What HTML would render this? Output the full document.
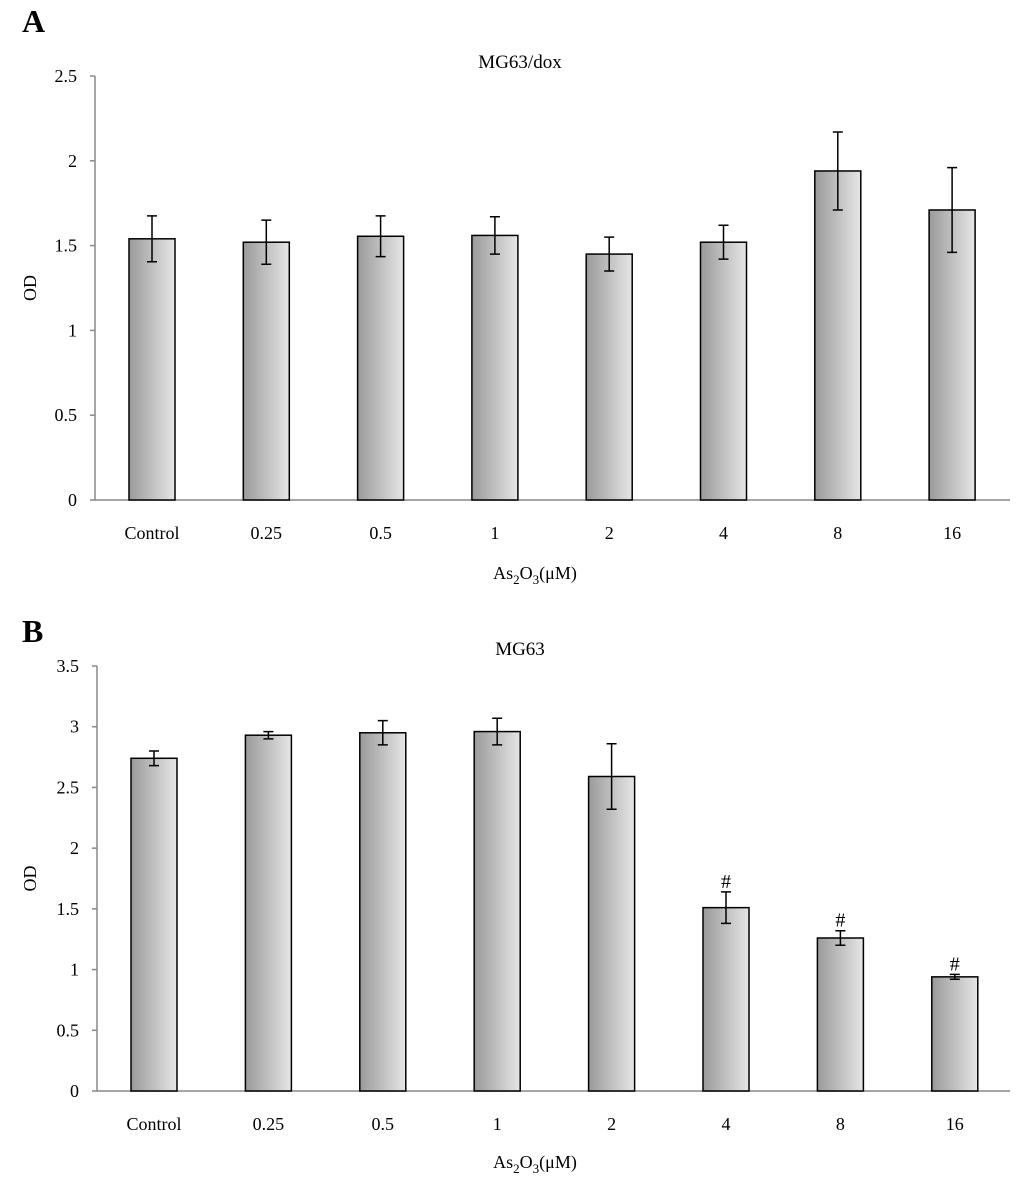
<!DOCTYPE html>
<html><head><meta charset="utf-8"><style>
body{margin:0;background:#fff;}
svg text{font-family:"Liberation Serif",serif;fill:#000;}
</style></head><body>
<svg id="c" width="1033" height="1198" xmlns="http://www.w3.org/2000/svg">
<defs><linearGradient id="g" x1="0" x2="1" y1="0" y2="0"><stop offset="0" stop-color="#9a9a9a"/><stop offset="1" stop-color="#e6e6e6"/></linearGradient></defs>
</svg>
<script>
const categories=["Control","0.25","0.5","1","2","4","8","16"];
const valuesA=[1.54,1.52,1.555,1.56,1.45,1.52,1.94,1.71];
const errorsA=[0.135,0.13,0.12,0.11,0.1,0.1,0.23,0.25];
const ticksA=[0,0.5,1,1.5,2,2.5];
const valuesB=[2.74,2.93,2.95,2.96,2.59,1.51,1.26,0.94];
const errorsB=[0.06,0.03,0.1,0.11,0.27,0.13,0.06,0.02];
const ticksB=[0,0.5,1,1.5,2,2.5,3,3.5];
const markB=["","","","","","#","#","#"];
const svg=document.getElementById('c');
const NS="http://www.w3.org/2000/svg";
function mk(tag,attrs,txt){const e=document.createElementNS(NS,tag);for(const k in attrs)e.setAttribute(k,attrs[k]);if(txt!==undefined)e.textContent=txt;svg.appendChild(e);return e;}
function panel(p){
  const {ax,y0,yTop,vmax,x0,step,vals,errs,ticks,marks,title,titleY,letter,letterY,xlY,xtY,pre}=p;
  const ys=v=>y0-(v/vmax)*(y0-yTop);
  const xs=i=>x0+i*step;
  let e=mk('text',{x:22,y:letterY,'font-size':32,'font-weight':'bold'},letter);
  
  e=mk('text',{x:520,y:titleY,'font-size':19,'text-anchor':'middle'},title);
  
  e=mk('line',{x1:ax,y1:yTop,x2:ax,y2:y0,stroke:'#888','stroke-width':1.5});
  
  e=mk('line',{x1:ax,y1:y0,x2:1010,y2:y0,stroke:'#888','stroke-width':1.5});
  
  ticks.forEach(t=>{
    const y=ys(t);
    let l=mk('line',{x1:ax-5,y1:y,x2:ax,y2:y,stroke:'#888','stroke-width':1.5});
    
    let tx=mk('text',{x:ax-18,y:y+6,'font-size':18,'text-anchor':'end'},String(t));
    
  });
  e=mk('text',{x:36,y:(y0+yTop)/2,'font-size':18,'text-anchor':'middle',transform:`rotate(-90 36 ${(y0+yTop)/2})`},'OD');
  
  categories.forEach((c,i)=>{
    const cx=xs(i),top=ys(vals[i]);
    let r=mk('rect',{x:cx-23,y:top,width:46,height:y0-top,fill:'url(#g)',stroke:'#000','stroke-width':1.5});
    
    const eh=ys(vals[i]+errs[i]),el=ys(vals[i]-errs[i]);
    let g=mk('path',{d:`M${cx} ${eh}V${el}M${cx-5} ${eh}H${cx+5}M${cx-5} ${el}H${cx+5}`,stroke:'#000','stroke-width':1.5,fill:'none'});
    
    let t=mk('text',{x:cx,y:xtY,'font-size':18,'text-anchor':'middle'},c);
    
    if(marks&&marks[i]){let m=mk('text',{x:cx,y:eh-4,'font-size':20,'text-anchor':'middle'},marks[i]);
      }
  });
  const t=mk('text',{x:535,y:xlY,'font-size':18,'text-anchor':'middle'});
  t.innerHTML='As<tspan font-size="13" dy="5">2</tspan><tspan dy="-5">O</tspan><tspan font-size="13" dy="5">3</tspan><tspan dy="-5">(μM)</tspan>';
  
}
panel({pre:'a-',ax:95,y0:500,yTop:76,vmax:2.5,x0:152,step:114.3,vals:valuesA,errs:errorsA,ticks:ticksA,marks:null,title:'MG63/dox',titleY:68,letter:'A',letterY:32,xtY:539,xlY:579});
panel({pre:'b-',ax:97,y0:1091,yTop:666,vmax:3.5,x0:154,step:114.4,vals:valuesB,errs:errorsB,ticks:ticksB,marks:markB,title:'MG63',titleY:655,letter:'B',letterY:642,xtY:1130,xlY:1168});
</script>
</body></html>
